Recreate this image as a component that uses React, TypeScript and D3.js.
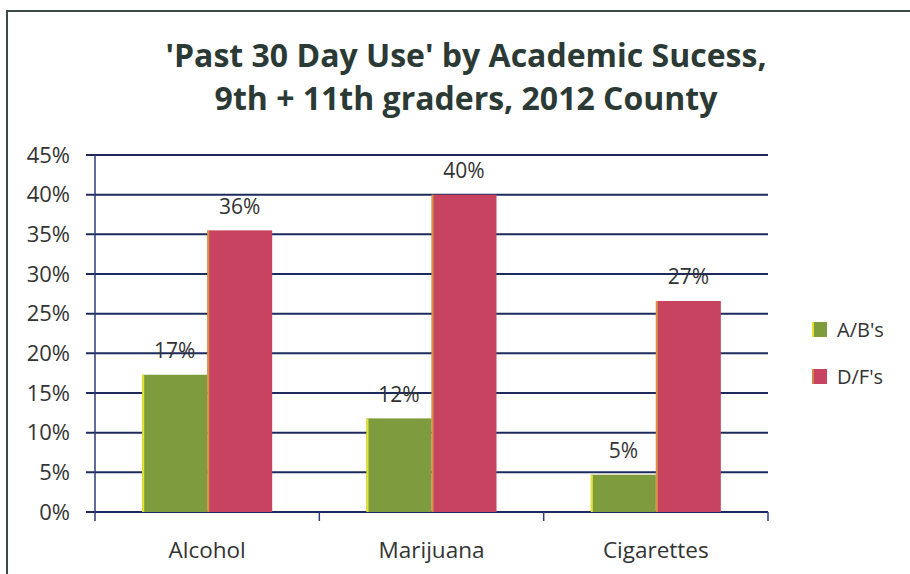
import React from "react";
import * as d3 from "d3";

const categories = ["Alcohol", "Marijuana", "Cigarettes"];
const seriesNames = ["A/B's", "D/F's"];
const abValues = [17.3, 11.8, 4.7];
const dfValues = [35.5, 40.0, 26.6];
const abLabels = ["17%", "12%", "5%"];
const dfLabels = ["36%", "40%", "27%"];
const yTicks = [0, 5, 10, 15, 20, 25, 30, 35, 40, 45];
const titleLines = ["'Past 30 Day Use' by Academic Sucess,", "9th + 11th graders, 2012 County"];

const FONT = "'Open Sans', Lato, sans-serif";
const GREEN = "#7e9c3e";
const RED = "#c8435f";
const GRID = "#1e2a5c";
const TEXT = "#333333";

export default function App() {
  const left = 95, right = 768, top = 155, bottom = 512;
  const x = d3.scaleBand<string>().domain(categories).range([left, right]).paddingInner(0).paddingOuter(0);
  const y = d3.scaleLinear().domain([0, 45]).range([bottom, top]);
  const barW = 65;
  const series = [
    { name: seriesNames[0], values: abValues, labels: abLabels, color: GREEN },
    { name: seriesNames[1], values: dfValues, labels: dfLabels, color: RED },
  ];
  const inner = d3.scaleBand<string>().domain(seriesNames).range([0, barW * 2]);

  return (
    <svg width={910} height={574} style={{ position: "absolute", left: 0, top: 0, background: "#fff" }}>
      <rect x={7} y={11} width={1000} height={700} fill="none" stroke="#3b4a45" strokeWidth={2} />
      {titleLines.map((t, i) => (
        <text key={i} x={466} y={67 + i * 43} textAnchor="middle" fontFamily={FONT} fontWeight="bold" fontSize={32} fill="#2c3a36">
          {t}
        </text>
      ))}
      {yTicks.map((t) => (
        <g key={t}>
          <line x1={86} x2={right} y1={y(t)} y2={y(t)} stroke={GRID} strokeWidth={2} />
          <text x={70} y={y(t)} dy="0.35em" textAnchor="end" fontFamily={FONT} fontSize={22} fill={TEXT}>
            {t}%
          </text>
        </g>
      ))}
      <line x1={left} x2={left} y1={top} y2={bottom + 9} stroke="#2d3b7a" strokeWidth={1.5} />
      {categories.map((c) => (
        <line key={c} x1={x(c)! + x.bandwidth()} x2={x(c)! + x.bandwidth()} y1={bottom} y2={bottom + 9} stroke="#2d3b7a" strokeWidth={1.5} />
      ))}
      {categories.map((c, ci) => {
        const cx = x(c)! + x.bandwidth() / 2;
        return (
          <g key={c}>
            {series.map((s) => {
              const bx = cx - barW + inner(s.name)!;
              const v = s.values[ci];
              return (
                <g key={s.name}>
                  <rect x={bx} y={y(v)} width={barW} height={bottom - y(v)} fill={s.color} />
                  <line x1={bx + 1} x2={bx + 1} y1={y(v)} y2={bottom} stroke="#e6e42a" strokeWidth={2} opacity={s.name === seriesNames[0] ? 1 : 0.5} />
                  <text x={bx + barW / 2} y={y(v) - 24} dy="0.35em" textAnchor="middle" fontFamily={FONT} fontSize={21} fill={TEXT}>
                    {s.labels[ci]}
                  </text>
                </g>
              );
            })}
            <text x={cx} y={550} dy="0.35em" textAnchor="middle" fontFamily={FONT} fontSize={22.5} fill={TEXT}>
              {c}
            </text>
          </g>
        );
      })}
      {series.map((s, i) => (
        <g key={s.name}>
          <rect x={812} y={322 + i * 47} width={15} height={15} fill={s.color} />
          <line x1={813} x2={813} y1={322 + i * 47} y2={337 + i * 47} stroke="#e6e42a" strokeWidth={2} opacity={i === 0 ? 1 : 0.4} />
          <text x={837} y={330 + i * 47} dy="0.35em" fontFamily={FONT} fontSize={20} fill={TEXT}>
            {s.name}
          </text>
        </g>
      ))}
    </svg>
  );
}
